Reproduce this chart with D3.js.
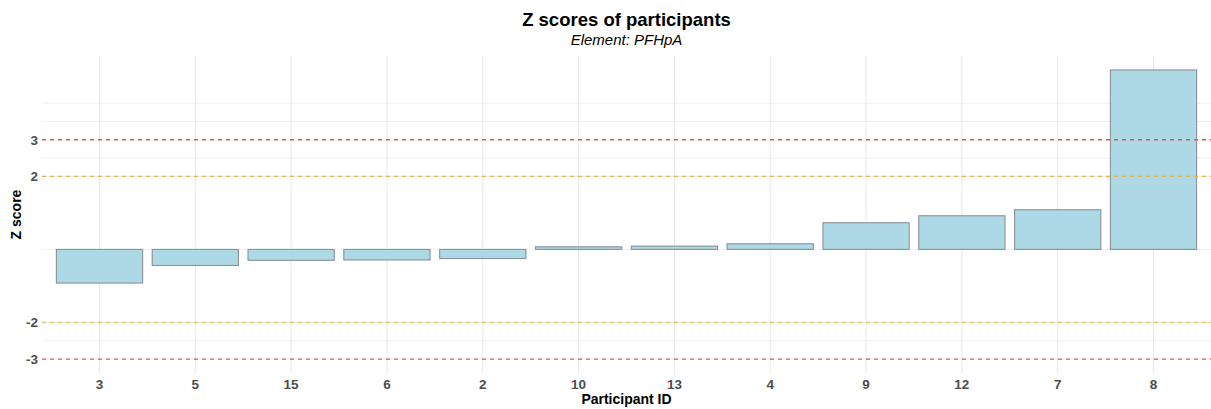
<!DOCTYPE html>
<html>
<head>
<meta charset="utf-8">
<script src="https://cdn.jsdelivr.net/npm/d3@7"></script>
<style>
  html, body { margin: 0; padding: 0; background: #fff; }
  svg { display: block; font-family: "Liberation Sans", Arial, sans-serif; }
</style>
</head>
<body>
<svg id="chart" width="1211" height="409"></svg>
<script>
// ---- data ----
const participants = ["3", "5", "15", "6", "2", "10", "13", "4", "9", "12", "7", "8"];
const zScores = [-0.92, -0.44, -0.30, -0.29, -0.25, 0.07, 0.09, 0.155, 0.73, 0.92, 1.085, 4.91];
const yTicks = [-3, -2, 2, 3];
const yGridMinor = [-2.5, 0, 2.5, 3.5, 4];
const refLines = [
  { value: 3, color: "#dc5a5a" },
  { value: 2, color: "#e8b24c" },
  { value: -2, color: "#e8c560" },
  { value: -3, color: "#dc5a5a" }
];
const titleText = "Z scores of participants";
const subtitleText = "Element: PFHpA";
const xLabel = "Participant ID";
const yLabel = "Z score";

// ---- layout ----
const svg = d3.select("#chart");
const pLeft = 42, pRight = 1211, pTop = 55.5, pBottom = 373.5;

const x = d3.scaleBand()
  .domain(participants)
  .range([pLeft, pRight])
  .paddingInner(0.1)
  .paddingOuter(0.15);

// y limits: data + ref lines with 5% expansion
const yMin = Math.min(d3.min(zScores), -3), yMax = Math.max(d3.max(zScores), 3);
const ex = (yMax - yMin) * 0.05;
const y = d3.scaleLinear().domain([yMin - ex, yMax + ex]).range([pBottom, pTop]);

// gridlines
const g = svg.append("g");
g.selectAll("line.hmin").data(yGridMinor.filter(v => v >= y.domain()[0] && v <= y.domain()[1]))
  .enter().append("line")
  .attr("x1", pLeft).attr("x2", pRight)
  .attr("y1", d => y(d)).attr("y2", d => y(d))
  .attr("stroke", "#f0f0f0").attr("stroke-width", 1);
g.selectAll("line.hmaj").data(yTicks)
  .enter().append("line")
  .attr("x1", pLeft).attr("x2", pRight)
  .attr("y1", d => y(d)).attr("y2", d => y(d))
  .attr("stroke", "#e8e8e8").attr("stroke-width", 1);
g.selectAll("line.v").data(participants)
  .enter().append("line")
  .attr("x1", d => x(d) + x.bandwidth() / 2).attr("x2", d => x(d) + x.bandwidth() / 2)
  .attr("y1", pTop).attr("y2", pBottom)
  .attr("stroke", "#e8e8e8").attr("stroke-width", 1);

// bars
svg.append("g").selectAll("rect").data(participants)
  .enter().append("rect")
  .attr("x", d => x(d))
  .attr("width", x.bandwidth())
  .attr("y", (d, i) => y(Math.max(0, zScores[i])))
  .attr("height", (d, i) => Math.abs(y(zScores[i]) - y(0)))
  .attr("fill", "#add8e6")
  .attr("stroke", "#8a9296")
  .attr("stroke-width", 1.1);

// reference lines
svg.append("g").selectAll("line").data(refLines)
  .enter().append("line")
  .attr("x1", pLeft).attr("x2", pRight)
  .attr("y1", d => y(d.value)).attr("y2", d => y(d.value))
  .attr("stroke", d => d.color)
  .attr("stroke-width", 1.3)
  .attr("stroke-dasharray", "4,4");

// axes
const yAxis = svg.append("g").attr("transform", `translate(${pLeft - 4},0)`)
  .call(d3.axisLeft(y).tickValues(yTicks).tickSize(0).tickPadding(0).tickFormat(d => String(d)));
yAxis.select(".domain").remove();
yAxis.selectAll("text")
  .attr("font-size", 13.5).attr("font-weight", "bold").attr("fill", "#4d4d4d")
  .attr("font-family", "Liberation Sans, Arial, sans-serif");

const xAxis = svg.append("g").attr("transform", `translate(0,${pBottom + 6})`)
  .call(d3.axisBottom(x).tickSize(0).tickPadding(0));
xAxis.select(".domain").remove();
xAxis.selectAll("text")
  .attr("dy", "0.71em")
  .attr("font-size", 13.5).attr("font-weight", "bold").attr("fill", "#4d4d4d")
  .attr("font-family", "Liberation Sans, Arial, sans-serif");

// titles
const cx = (pLeft + pRight) / 2;
svg.append("text").attr("x", cx).attr("y", 26)
  .attr("text-anchor", "middle").attr("font-size", 18.5).attr("font-weight", "bold")
  .attr("fill", "#000").text(titleText);
svg.append("text").attr("x", cx).attr("y", 45)
  .attr("text-anchor", "middle").attr("font-size", 15).attr("font-style", "italic")
  .attr("fill", "#000").text(subtitleText);
svg.append("text").attr("x", cx).attr("y", 404)
  .attr("text-anchor", "middle").attr("font-size", 14).attr("font-weight", "bold")
  .attr("fill", "#000").text(xLabel);
svg.append("text")
  .attr("transform", `translate(21,${(pTop + pBottom) / 2}) rotate(-90)`)
  .attr("text-anchor", "middle").attr("font-size", 14).attr("font-weight", "bold")
  .attr("fill", "#000").text(yLabel);
</script>
</body>
</html>
